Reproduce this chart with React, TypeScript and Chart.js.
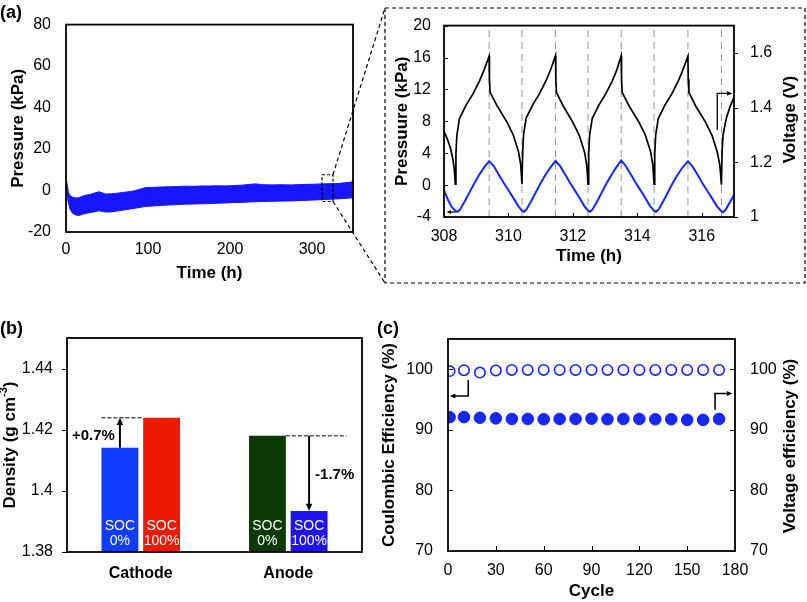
import React, { useEffect, useRef } from 'react';
import { Chart, registerables } from 'chart.js';

Chart.register(...registerables);

const FONT = "'Liberation Sans', Arial, Helvetica, sans-serif";
Chart.defaults.font.family = FONT;
Chart.defaults.color = '#000';

// ---------- Panel (a): long-term pressure band ----------
const longTime = [0, 0.5, 1.5, 3, 5, 8, 12, 16, 20, 25, 30, 35, 40, 44, 48, 55, 62, 70, 78, 85, 92, 97, 105, 115, 125, 135, 145, 155, 165, 175, 185, 195, 205, 215, 225, 232, 240, 250, 262, 275, 288, 300, 312, 322, 332, 340, 346, 350];
const longHigh = [1.0, 4.8, 3.0, -1.0, -2.5, -3.2, -3.6, -3.4, -2.8, -2.2, -1.8, -1.2, -0.6, -1.1, -1.7, -1.6, -1.3, -0.9, -0.5, 0.0, 0.9, 1.4, 1.5, 1.7, 1.8, 1.9, 2.1, 2.0, 2.2, 2.2, 2.3, 2.2, 2.4, 2.6, 3.0, 3.2, 2.8, 2.7, 2.8, 2.7, 2.9, 3.0, 3.2, 3.3, 3.4, 3.7, 4.0, 4.2];
const longLow = [-0.5, -1.5, -3.0, -6.0, -9.0, -11.0, -11.8, -12.0, -11.5, -11.0, -10.6, -10.2, -9.8, -10.0, -10.4, -10.3, -9.9, -9.4, -8.9, -8.5, -8.0, -7.7, -7.5, -7.2, -7.0, -6.8, -6.6, -6.5, -6.4, -6.3, -6.1, -6.0, -5.8, -5.7, -5.5, -5.4, -5.3, -5.2, -5.1, -5.0, -4.8, -4.6, -4.4, -4.2, -4.0, -3.8, -3.6, -3.5];
const longTimeTicks = [0, 100, 200, 300];
const longPressureTicks = [-20, 0, 20, 40, 60, 80];

// ---------- Panel (a): inset ----------
const insetVoltTime = [
  308.00, 308.10, 308.20, 308.27, 308.32, 308.35,
  308.37, 308.40, 308.48, 308.69, 308.90, 309.11, 309.25, 309.40,
  309.41, 309.43, 309.64, 309.95, 310.15, 310.31, 310.38, 310.42,
  310.44, 310.47, 310.55, 310.76, 310.97, 311.18, 311.32, 311.46,
  311.47, 311.49, 311.70, 312.00, 312.20, 312.36, 312.43, 312.47,
  312.49, 312.52, 312.60, 312.81, 313.02, 313.23, 313.37, 313.50,
  313.51, 313.53, 313.74, 314.05, 314.25, 314.41, 314.48, 314.52,
  314.54, 314.57, 314.65, 314.86, 315.07, 315.28, 315.42, 315.57,
  315.58, 315.60, 315.81, 316.12, 316.32, 316.48, 316.56, 316.61,
  316.63, 316.66, 316.76, 316.88, 317.00,
];
const insetVolt = [
  1.313, 1.286, 1.252, 1.215, 1.175, 1.120,
  1.230, 1.300, 1.360, 1.410, 1.450, 1.500, 1.540, 1.588,
  1.505, 1.456, 1.408, 1.348, 1.300, 1.240, 1.193, 1.120,
  1.232, 1.302, 1.362, 1.412, 1.452, 1.502, 1.542, 1.590,
  1.505, 1.455, 1.406, 1.346, 1.298, 1.238, 1.190, 1.120,
  1.230, 1.300, 1.360, 1.410, 1.450, 1.500, 1.540, 1.590,
  1.505, 1.456, 1.407, 1.347, 1.299, 1.240, 1.192, 1.120,
  1.230, 1.300, 1.360, 1.410, 1.450, 1.500, 1.540, 1.588,
  1.505, 1.456, 1.406, 1.346, 1.298, 1.238, 1.190, 1.118,
  1.240, 1.300, 1.360, 1.405, 1.438,
];
const insetPresTime = [
  308.00, 308.12, 308.25, 308.36, 308.42, 308.50, 308.65, 308.80, 308.95, 309.10, 309.25, 309.40,
  309.55, 309.70, 309.85, 310.00, 310.15, 310.30, 310.42, 310.48, 310.56, 310.70, 310.85, 311.00, 311.15, 311.30, 311.46,
  311.60, 311.75, 311.90, 312.05, 312.20, 312.35, 312.47, 312.53, 312.61, 312.75, 312.90, 313.05, 313.20, 313.35, 313.50,
  313.64, 313.79, 313.94, 314.09, 314.24, 314.39, 314.52, 314.58, 314.66, 314.80, 314.95, 315.10, 315.25, 315.40, 315.57,
  315.71, 315.86, 316.01, 316.16, 316.31, 316.46, 316.60, 316.66, 316.74, 316.87, 317.00,
];
const insetPres = [
  -0.65, -1.80, -2.80, -3.25, -3.35, -3.05, -2.00, -0.85, 0.30, 1.35, 2.25, 3.00,
  2.35, 1.30, 0.30, -0.65, -1.60, -2.60, -3.20, -3.35, -3.05, -2.05, -0.90, 0.25, 1.30, 2.20, 3.05,
  2.40, 1.40, 0.35, -0.60, -1.55, -2.60, -3.20, -3.35, -3.05, -2.05, -0.90, 0.25, 1.30, 2.25, 3.10,
  2.40, 1.40, 0.35, -0.60, -1.55, -2.60, -3.20, -3.35, -3.05, -2.05, -0.90, 0.25, 1.30, 2.20, 3.00,
  2.35, 1.35, 0.30, -0.65, -1.60, -2.60, -3.25, -3.40, -3.10, -2.15, -1.25,
];
const insetCycleMarks = [309.40, 310.42, 311.46, 312.47, 313.50, 314.52, 315.57, 316.61];
const insetTimeTicks = [308, 310, 312, 314, 316];
const insetPressureTicks = [-4, 0, 4, 8, 12, 16, 20];
const insetVoltageTicks = [1, 1.2, 1.4, 1.6];

// ---------- Panel (b) ----------
const electrodes = ['Cathode', 'Anode'];
const densitySoc0 = [1.4141, 1.418];
const densitySoc100 = [1.4239, 1.3934];
const socNames = ['0%', '100%'];
const changeLabels = ['+0.7%', '-1.7%'];
const densityTicks = [1.38, 1.4, 1.42, 1.44];

// ---------- Panel (c) ----------
const cycles = [1, 10, 20, 30, 40, 50, 60, 70, 80, 90, 100, 110, 120, 130, 140, 150, 160, 170];
const coulombicEff = [99.7, 99.85, 99.45, 99.8, 99.9, 99.9, 99.9, 99.9, 99.9, 99.9, 99.9, 99.9, 99.9, 99.9, 99.9, 99.9, 99.9, 99.9];
const voltageEff = [92.1, 92.1, 92.0, 91.9, 91.8, 91.8, 91.75, 91.8, 91.8, 91.85, 91.75, 91.8, 91.8, 91.75, 91.75, 91.65, 91.65, 91.8];
const cycleTicks = [0, 30, 60, 90, 120, 150, 180];
const effTicks = [70, 80, 90, 100];

// ---------- helpers ----------
const fmt = (v: any) => String(Math.round(Number(v) * 1000) / 1000);
const setTicks = (arr: number[]) => (s: any) => { s.ticks = arr.map((v) => ({ value: v })); };
const fixW = (w: number) => (s: any) => { s.width = w; };
const fixH = (h: number) => (s: any) => { s.height = h; };
const tickFont = { family: FONT, size: 16 };
const titleFont = { family: FONT, size: 17, weight: 'bold' as const };
const noGrid = { display: false, drawTicks: false };
const noBorder = { display: false };

type Dir = 'in' | 'out';
function frameAndTicks(chart: any, spec: Record<string, Dir>, len = 5) {
  const ctx = chart.ctx;
  const a = chart.chartArea;
  ctx.save();
  ctx.strokeStyle = '#000';
  ctx.lineWidth = 1;
  for (const id of Object.keys(spec)) {
    const s = chart.scales[id];
    const d = spec[id] === 'in' ? 1 : -1;
    s.ticks.forEach((_t: any, i: number) => {
      const p = Math.round(s.getPixelForTick(i)) + 0.5;
      ctx.beginPath();
      if (s.position === 'left') { ctx.moveTo(a.left, p); ctx.lineTo(a.left + d * len, p); }
      else if (s.position === 'right') { ctx.moveTo(a.right, p); ctx.lineTo(a.right - d * len, p); }
      else { ctx.moveTo(p, a.bottom); ctx.lineTo(p, a.bottom - d * len); }
      ctx.stroke();
    });
  }
  ctx.lineWidth = 1.8;
  ctx.strokeRect(a.left, a.top, a.right - a.left, a.bottom - a.top);
  ctx.restore();
}

function arrow(ctx: any, pts: number[][], head = 7, lw = 1.5, color = '#000') {
  ctx.save();
  ctx.strokeStyle = color;
  ctx.fillStyle = color;
  ctx.lineWidth = lw;
  const n = pts.length;
  const [x1, y1] = pts[n - 2];
  const [x2, y2] = pts[n - 1];
  const ang = Math.atan2(y2 - y1, x2 - x1);
  const bx = x2 - head * 0.8 * Math.cos(ang);
  const by = y2 - head * 0.8 * Math.sin(ang);
  ctx.beginPath();
  ctx.moveTo(pts[0][0], pts[0][1]);
  for (let i = 1; i < n - 1; i++) ctx.lineTo(pts[i][0], pts[i][1]);
  ctx.lineTo(bx, by);
  ctx.stroke();
  ctx.beginPath();
  ctx.moveTo(x2, y2);
  ctx.lineTo(x2 - head * Math.cos(ang - 0.42), y2 - head * Math.sin(ang - 0.42));
  ctx.lineTo(x2 - head * Math.cos(ang + 0.42), y2 - head * Math.sin(ang + 0.42));
  ctx.closePath();
  ctx.fill();
  ctx.restore();
}

function label(ctx: any, s: string, x: number, y: number, font: string, align = 'center', color = '#000', rot = 0) {
  ctx.save();
  ctx.font = font;
  ctx.fillStyle = color;
  ctx.textAlign = align;
  ctx.textBaseline = 'middle';
  ctx.translate(x, y);
  if (rot) ctx.rotate(rot);
  ctx.fillText(s, 0, 0);
  ctx.restore();
}

function dashed(ctx: any, pts: number[][], dash = [4, 3], lw = 1.2) {
  ctx.save();
  ctx.strokeStyle = '#000';
  ctx.lineWidth = lw;
  ctx.setLineDash(dash);
  ctx.beginPath();
  ctx.moveTo(pts[0][0], pts[0][1]);
  for (let i = 1; i < pts.length; i++) ctx.lineTo(pts[i][0], pts[i][1]);
  ctx.stroke();
  ctx.restore();
}

const baseOpts = {
  responsive: false,
  maintainAspectRatio: false,
  animation: false as const,
  devicePixelRatio: 1,
  events: [] as any[],
};
const noPlugins = { legend: { display: false }, tooltip: { enabled: false } };

// ---------- chart configs ----------
function makeLong(): any {
  return {
    type: 'line',
    data: {
      datasets: [
        { data: longTime.map((t, i) => ({ x: t, y: longHigh[i] })), borderColor: '#1616ff', backgroundColor: '#1616ff', borderWidth: 1, pointRadius: 0, fill: '+1', tension: 0 },
        { data: longTime.map((t, i) => ({ x: t, y: longLow[i] })), borderColor: '#1616ff', borderWidth: 1, pointRadius: 0, fill: false, tension: 0 },
      ],
    },
    options: {
      ...baseOpts,
      layout: { padding: { left: 0, top: 23, right: 37, bottom: 8 } },
      plugins: noPlugins,
      scales: {
        x: {
          type: 'linear', min: 0, max: 350, afterBuildTicks: setTicks(longTimeTicks), afterFit: fixH(60),
          ticks: { font: tickFont, padding: 8, callback: fmt, maxRotation: 0 }, grid: noGrid, border: noBorder,
          title: { display: true, text: 'Time (h)', font: titleFont, padding: { top: 0, bottom: 8 } },
        },
        y: {
          type: 'linear', min: -20, max: 80, afterBuildTicks: setTicks(longPressureTicks), afterFit: fixW(66),
          ticks: { font: tickFont, padding: 15, callback: fmt }, grid: noGrid, border: noBorder,
          title: { display: true, text: 'Pressure (kPa)', font: titleFont, padding: { top: 8, bottom: 0 } },
        },
      },
    },
    plugins: [{
      id: 'decorA',
      afterDraw(chart: any) {
        const ctx = chart.ctx;
        frameAndTicks(chart, {});
        const sx = chart.scales.x, sy = chart.scales.y;
        const x1 = sx.getPixelForValue(312.2), x2 = sx.getPixelForValue(325.6);
        const y1 = sy.getPixelForValue(7.6), y2 = sy.getPixelForValue(-5.3);
        dashed(ctx, [[x1, y1], [x2, y1], [x2, y2], [x1, y2], [x1, y1]], [3, 2], 1.2);
        dashed(ctx, [[x2, y1], [385, 8]], [4, 3], 1.2);
        dashed(ctx, [[x2, y2], [385, 283]], [4, 3], 1.2);
        label(ctx, '(a)', 0, 13, `bold 18px ${FONT}`, 'left');
      },
    }],
  };
}

function makeInset(): any {
  const marks = insetCycleMarks.map((t) => ({
    data: [{ x: t, y: -4 }, { x: t, y: 20 }], yAxisID: 'y', borderColor: '#8c9a9a', borderWidth: 1, borderDash: [7, 5], pointRadius: 0, fill: false,
  }));
  return {
    type: 'line',
    data: {
      datasets: [
        { data: insetVoltTime.map((t, i) => ({ x: t, y: insetVolt[i] })), yAxisID: 'y1', borderColor: '#000', borderWidth: 1.7, pointRadius: 0, fill: false, tension: 0 },
        { data: insetPresTime.map((t, i) => ({ x: t, y: insetPres[i] })), yAxisID: 'y', borderColor: '#1428ff', borderWidth: 2, pointRadius: 0, fill: false, tension: 0 },
        ...marks,
      ],
    },
    options: {
      ...baseOpts,
      layout: { padding: { left: 0, top: 22, right: 7, bottom: 23 } },
      plugins: noPlugins,
      scales: {
        x: {
          type: 'linear', min: 308, max: 317, afterBuildTicks: setTicks(insetTimeTicks), afterFit: fixH(60),
          ticks: { font: tickFont, padding: 10, callback: fmt, maxRotation: 0 }, grid: noGrid, border: noBorder,
          title: { display: true, text: 'Time (h)', font: titleFont, padding: { top: 0, bottom: 10 } },
        },
        y: {
          type: 'linear', position: 'left', min: -4, max: 20, afterBuildTicks: setTicks(insetPressureTicks), afterFit: fixW(64),
          ticks: { font: tickFont, padding: 13, callback: fmt }, grid: noGrid, border: noBorder,
          title: { display: true, text: 'Pressuure (kPa)', font: titleFont, padding: { top: 12, bottom: 0 } },
        },
        y1: {
          type: 'linear', position: 'right', min: 1, max: 1.7, afterBuildTicks: setTicks(insetVoltageTicks), afterFit: fixW(66),
          ticks: { font: tickFont, padding: 16, callback: fmt }, grid: noGrid, border: noBorder,
        },
      },
    },
    plugins: [{
      id: 'decorB',
      afterDraw(chart: any) {
        const ctx = chart.ctx;
        frameAndTicks(chart, { x: 'in', y: 'in', y1: 'out' }, 4);
        const sx = chart.scales.x, sy = chart.scales.y, sv = chart.scales.y1;
        arrow(ctx, [[sx.getPixelForValue(308.36), sy.getPixelForValue(-3.38)], [sx.getPixelForValue(308.08), sy.getPixelForValue(-3.38)]], 5, 1.2);
        arrow(ctx, [
          [sx.getPixelForValue(316.48), sv.getPixelForValue(1.319)],
          [sx.getPixelForValue(316.48), sv.getPixelForValue(1.452)],
          [sx.getPixelForValue(316.95), sv.getPixelForValue(1.452)],
        ], 6, 1.3);
        label(ctx, 'Voltage (V)', 410, 119.5, `bold 17px ${FONT}`, 'center', '#000', -Math.PI / 2);
        dashed(ctx, [[5, 8], [425, 8], [425, 283], [5, 283], [5, 8]], [4, 3], 1.2);
      },
    }],
  };
}

function makeDensity(): any {
  return {
    type: 'bar',
    data: {
      labels: electrodes,
      datasets: [
        { label: 'SOC 0%', data: densitySoc0, backgroundColor: ['#0f3cff', '#0b3a04'], borderWidth: 0, categoryPercentage: 0.565, barPercentage: 0.885 },
        { label: 'SOC 100%', data: densitySoc100, backgroundColor: ['#ec1a00', '#1e14f2'], borderWidth: 0, categoryPercentage: 0.565, barPercentage: 0.885 },
      ],
    },
    options: {
      ...baseOpts,
      layout: { padding: { left: 0, top: 38, right: 10, bottom: 0 } },
      plugins: noPlugins,
      scales: {
        x: {
          afterFit: fixH(50),
          ticks: { font: { family: FONT, size: 16, weight: 'bold' }, padding: 12, maxRotation: 0 }, grid: noGrid, border: noBorder,
        },
        y: {
          type: 'linear', min: 1.38, max: 1.45, afterBuildTicks: setTicks(densityTicks), afterFit: fixW(67),
          ticks: { font: tickFont, padding: 14, callback: fmt }, grid: noGrid, border: noBorder,
        },
      },
    },
    plugins: [{
      id: 'decorD',
      afterDraw(chart: any) {
        const ctx = chart.ctx;
        frameAndTicks(chart, { y: 'out' }, 5);
        const a = chart.chartArea;
        ctx.save();
        ctx.translate(10, (a.top + a.bottom) / 2);
        ctx.rotate(-Math.PI / 2);
        ctx.fillStyle = '#000';
        ctx.textBaseline = 'middle';
        const big = `bold 17px ${FONT}`, small = `bold 11px ${FONT}`;
        ctx.font = big; const w1 = ctx.measureText('Density (g cm').width; const w3 = ctx.measureText(')').width;
        ctx.font = small; const w2 = ctx.measureText('-3').width;
        let x = -(w1 + w2 + w3) / 2;
        ctx.textAlign = 'left';
        ctx.font = big; ctx.fillText('Density (g cm', x, 0); x += w1;
        ctx.font = small; ctx.fillText('-3', x, -6); x += w2;
        ctx.font = big; ctx.fillText(')', x, 0);
        ctx.restore();
        label(ctx, '(b)', 0, 29.5, `bold 18px ${FONT}`, 'left');
        const m0 = chart.getDatasetMeta(0).data;
        const m1 = chart.getDatasetMeta(1).data;
        [m0, m1].forEach((bars: any[], d: number) => {
          bars.forEach((b: any) => {
            label(ctx, 'SOC', b.x, a.bottom - 26, `14px ${FONT}`, 'center', '#fff');
            label(ctx, socNames[d], b.x, a.bottom - 11, `14px ${FONT}`, 'center', '#fff');
          });
        });
        const cb = m0[0], cr = m1[0];
        dashed(ctx, [[cb.x - cb.width / 2, cr.y], [cr.x - cr.width / 2, cr.y]], [4, 2], 1);
        arrow(ctx, [[cb.x, cb.y], [cb.x, cr.y]], 8, 2);
        label(ctx, changeLabels[0], cb.x - 5, (cb.y + cr.y) / 2 + 3, `bold 15px ${FONT}`, 'right');
        const ag = m0[1], ab = m1[1];
        dashed(ctx, [[ag.x + ag.width / 2, ag.y], [ab.x + ab.width / 2 + 19, ag.y]], [4, 2], 1);
        arrow(ctx, [[ab.x, ag.y], [ab.x, ab.y]], 8, 2);
        label(ctx, changeLabels[1], ab.x + 6, (ag.y + ab.y) / 2 + 1, `bold 15px ${FONT}`, 'left');
      },
    }],
  };
}

function makeEff(): any {
  return {
    type: 'scatter',
    data: {
      datasets: [
        { data: cycles.map((c, i) => ({ x: c, y: coulombicEff[i] })), yAxisID: 'y', pointRadius: 5.2, pointBackgroundColor: '#fff', pointBorderColor: '#1428ff', pointBorderWidth: 1.6, showLine: false },
        { data: cycles.map((c, i) => ({ x: c, y: voltageEff[i] })), yAxisID: 'y1', pointRadius: 5.8, pointBackgroundColor: '#1428ff', pointBorderColor: '#1428ff', pointBorderWidth: 1, showLine: false },
      ],
    },
    options: {
      ...baseOpts,
      layout: { padding: { left: 0, top: 39, right: 0, bottom: 0 } },
      plugins: noPlugins,
      scales: {
        x: {
          type: 'linear', min: 0, max: 180, afterBuildTicks: setTicks(cycleTicks), afterFit: fixH(51),
          ticks: { font: tickFont, padding: 10, callback: fmt, maxRotation: 0 }, grid: noGrid, border: noBorder,
          title: { display: true, text: 'Cycle', font: titleFont, padding: { top: 0, bottom: 0 } },
        },
        y: {
          type: 'linear', position: 'left', min: 70, max: 105, afterBuildTicks: setTicks(effTicks), afterFit: fixW(76),
          ticks: { font: tickFont, padding: 15, callback: fmt }, grid: noGrid, border: noBorder,
          title: { display: true, text: 'Coulombic Efficiency (%)', font: titleFont, padding: { top: 7, bottom: 0 } },
        },
        y1: {
          type: 'linear', position: 'right', min: 70, max: 105, afterBuildTicks: setTicks(effTicks), afterFit: fixW(72),
          ticks: { font: tickFont, padding: 15, callback: fmt }, grid: noGrid, border: noBorder,
        },
      },
    },
    plugins: [{
      id: 'decorC',
      afterDraw(chart: any) {
        const ctx = chart.ctx;
        frameAndTicks(chart, { x: 'in', y: 'in', y1: 'in' }, 5);
        const sx = chart.scales.x, sy = chart.scales.y, s1 = chart.scales.y1;
        arrow(ctx, [
          [sx.getPixelForValue(12.7), sy.getPixelForValue(98.2)],
          [sx.getPixelForValue(12.7), sy.getPixelForValue(95.6)],
          [sx.getPixelForValue(1.2), sy.getPixelForValue(95.6)],
        ], 6, 1.6);
        arrow(ctx, [
          [sx.getPixelForValue(167.5), s1.getPixelForValue(93.3)],
          [sx.getPixelForValue(167.5), s1.getPixelForValue(96.0)],
          [sx.getPixelForValue(178.3), s1.getPixelForValue(96.0)],
        ], 6, 1.6);
        label(ctx, 'Voltage efficiency (%)', 418, 146, `bold 17px ${FONT}`, 'center', '#000', -Math.PI / 2);
        label(ctx, '(c)', 5, 29, `bold 18px ${FONT}`, 'left');
      },
    }],
  };
}

function ChartCanvas({ left, top, width, height, make }: { left: number; top: number; width: number; height: number; make: () => any }) {
  const ref = useRef<HTMLCanvasElement>(null);
  useEffect(() => {
    const chart = new Chart(ref.current as HTMLCanvasElement, make());
    return () => chart.destroy();
  }, []);
  return (
    <canvas ref={ref} width={width} height={height}
      style={{ position: 'absolute', left, top, width, height, display: 'block' }} />
  );
}

export default function App() {
  return (
    <div style={{ position: 'absolute', left: 0, top: 0, width: 807, height: 602, background: '#fff', overflow: 'hidden' }}>
      <ChartCanvas left={0} top={0} width={390} height={300} make={makeLong} />
      <ChartCanvas left={380} top={0} width={427} height={300} make={makeInset} />
      <ChartCanvas left={0} top={300} width={372} height={302} make={makeDensity} />
      <ChartCanvas left={372} top={300} width={435} height={302} make={makeEff} />
    </div>
  );
}
